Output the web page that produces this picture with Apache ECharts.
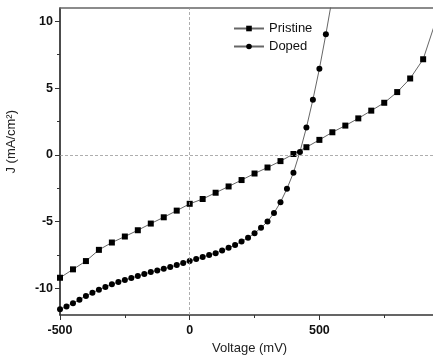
<!DOCTYPE html>
<html><head><meta charset="utf-8">
<script src="https://cdn.jsdelivr.net/npm/echarts@6/dist/echarts.min.js"></script>
<style>html,body{margin:0;padding:0;background:#fff}#c{width:433px;height:360px}</style>
</head><body><div id="c"></div>
<script>
const seriesNames = ['Pristine', 'Doped'];
const pristineV = [-500,-450,-400,-350,-300,-250,-200,-150,-100,-50,0,50,100,150,200,250,300,350,400,450,500,550,600,650,700,750,800,850,900,950];
const pristineJ = [-9.21,-8.58,-7.96,-7.12,-6.57,-6.12,-5.65,-5.15,-4.68,-4.18,-3.67,-3.31,-2.84,-2.37,-1.89,-1.40,-0.95,-0.47,0.06,0.57,1.12,1.69,2.19,2.73,3.31,3.90,4.70,5.72,7.16,10.1];
const dopedV = [-500,-475,-450,-425,-400,-375,-350,-325,-300,-275,-250,-225,-200,-175,-150,-125,-100,-75,-50,-25,0,25,50,75,100,125,150,175,200,225,250,275,300,325,350,375,400,425,450,475,500,525,550];
const dopedJ = [-11.57,-11.37,-11.12,-10.85,-10.57,-10.33,-10.10,-9.90,-9.70,-9.53,-9.38,-9.23,-9.08,-8.93,-8.78,-8.66,-8.54,-8.41,-8.26,-8.10,-7.95,-7.81,-7.66,-7.51,-7.37,-7.16,-6.97,-6.75,-6.49,-6.22,-5.87,-5.47,-5.00,-4.36,-3.55,-2.54,-1.34,0.22,2.04,4.13,6.44,9.03,11.8];
const xMajor = [-500, 0, 500];
const xMinor = [-250, 250, 750];
const yMajor = [-10, -5, 0, 5, 10];
const yMinor = [-7.5, -2.5, 2.5, 7.5];
const xRange = [-500, 938];
const yRange = [-12, 11];
const xTitle = 'Voltage (mV)';
const yTitle = 'J (mA/cm²)';

const zip = (a, b) => a.map((v, i) => [v, b[i]]);
const font = 'Liberation Sans, Arial, sans-serif';
const chart = echarts.init(document.getElementById('c'), null, {renderer: 'canvas'});
const baseX = {type: 'value', min: xRange[0], max: xRange[1], splitLine: {show: false}};
const baseY = {type: 'value', min: yRange[0], max: yRange[1], splitLine: {show: false}};
chart.setOption({
  animation: false,
  grid: {left: 60, right: 0, top: 8, bottom: 45},
  xAxis: [
    Object.assign({}, baseX, {position: 'bottom',
      axisLine: {show: true, onZero: false, lineStyle: {color: '#333', width: 1.5}},
      axisTick: {show: true, length: 5, lineStyle: {color: '#333', width: 1}, customValues: xMajor},
      axisLabel: {show: true, customValues: xMajor, color: '#111', fontWeight: 'bold', fontSize: 12.5, fontFamily: font, margin: 9}
    }),
    Object.assign({}, baseX, {position: 'bottom',
      axisLine: {show: false, onZero: false},
      axisTick: {show: true, length: 3, lineStyle: {color: '#333', width: 1}, customValues: xMinor},
      axisLabel: {show: false}
    }),
    Object.assign({}, baseX, {position: 'top',
      axisLine: {show: true, onZero: false, lineStyle: {color: '#666', width: 1.5}},
      axisTick: {show: false}, axisLabel: {show: false}
    })
  ],
  yAxis: [
    Object.assign({}, baseY, {position: 'left',
      axisLine: {show: true, onZero: false, lineStyle: {color: '#111', width: 1.5}},
      axisTick: {show: true, length: 5, lineStyle: {color: '#333', width: 1}, customValues: yMajor},
      axisLabel: {show: true, customValues: yMajor, color: '#111', fontWeight: 'bold', fontSize: 12.5, fontFamily: font, margin: 7}
    }),
    Object.assign({}, baseY, {position: 'left',
      axisLine: {show: false, onZero: false},
      axisTick: {show: true, length: 3, lineStyle: {color: '#333', width: 1}, customValues: yMinor},
      axisLabel: {show: false}
    })
  ],
  legend: {
    orient: 'vertical', left: 228, top: 17, itemWidth: 30, itemHeight: 7, itemGap: 5,
    textStyle: {fontSize: 13, fontFamily: font, color: '#111'},
    data: seriesNames
  },
  graphic: [
    {type: 'text', left: 5, top: 110, rotation: Math.PI / 2,
      style: {text: yTitle, font: '13px ' + font, fill: '#222'}},
    {type: 'text', left: 212, top: 342,
      style: {text: xTitle, font: '13px ' + font, fill: '#222'}}
  ],
  series: [
    {name: seriesNames[0], type: 'line', xAxisIndex: 0, yAxisIndex: 0, data: zip(pristineV, pristineJ),
      symbol: 'rect', symbolSize: 6, clip: true,
      lineStyle: {color: '#666', width: 1}, itemStyle: {color: '#000'},
      markLine: {silent: true, symbol: 'none', label: {show: false},
        lineStyle: {type: [3, 2], color: '#999', width: 0.8},
        data: [{xAxis: 0}, {yAxis: 0}]}
    },
    {name: seriesNames[1], type: 'line', xAxisIndex: 0, yAxisIndex: 0, data: zip(dopedV, dopedJ),
      symbol: 'circle', symbolSize: 6, clip: true,
      lineStyle: {color: '#666', width: 1}, itemStyle: {color: '#000'}
    }
  ]
});
</script></body></html>
